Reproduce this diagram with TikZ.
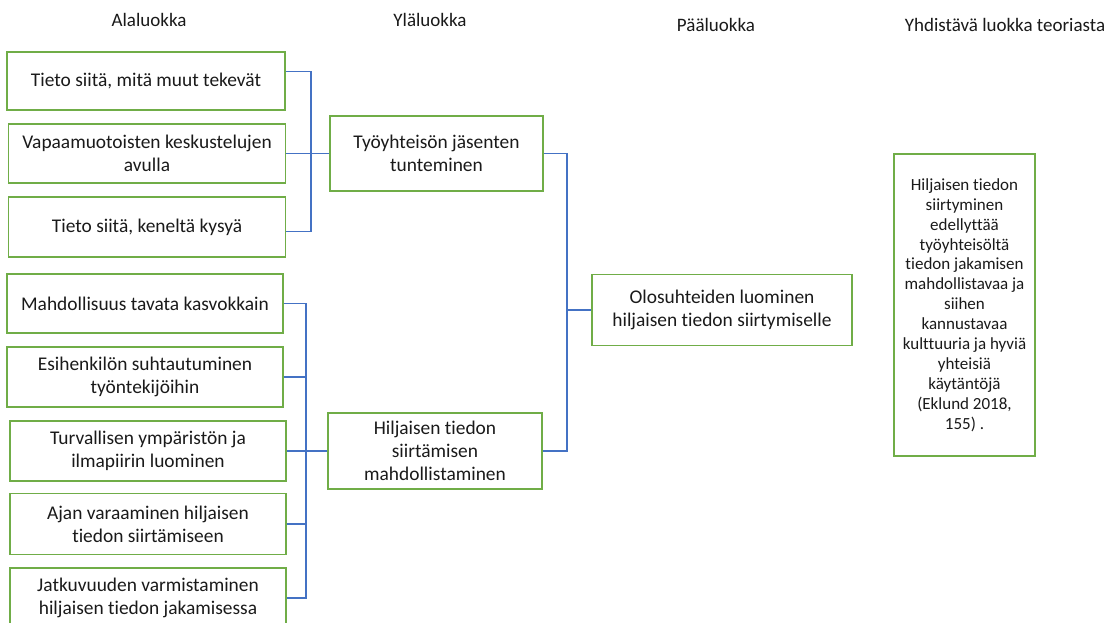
\documentclass[tikz,border=0pt]{standalone}
\usepackage{fontspec}
\setmainfont{Carlito}[Ligatures=NoCommon]
\usetikzlibrary{calc}
\definecolor{boxgreen}{HTML}{70AD47}
\definecolor{linkblue}{HTML}{4472C4}
\definecolor{inktext}{HTML}{1A1A1A}
\begin{document}
\begin{tikzpicture}[x=1pt,y=-1pt,
  catbox/.style={draw=boxgreen,line width=1.6pt,align=center,inner sep=2pt,
    text=inktext,font=\fontsize{19.4}{23.3}\selectfont},
  theorybox/.style={catbox,font=\fontsize{17}{19.9}\selectfont},
  heading/.style={text=inktext,font=\fontsize{19}{22}\selectfont,inner sep=0pt},
  link/.style={draw=linkblue,line width=1.5pt}]
\clip (0,0) rectangle (1110,623);
\fill[white] (0,0) rectangle (1110,623);

% column headings
\node[heading] (h1) at (149,20) {Alaluokka};
\node[heading] (h2) at (430,20) {Yläluokka};
\node[heading] (h3) at (716,25) {Pääluokka};
\node[heading] (h4) at (1005,25) {Yhdistävä luokka teoriasta};

% sub-categories, first group
\node[catbox,minimum width=278pt,minimum height=58pt] (a1) at (146,81) {Tieto siitä, mitä muut tekevät};
\node[catbox,minimum width=277pt,minimum height=59pt] (a2) at (147,153.5) {Vapaamuotoisten keskustelujen\\avulla};
\node[catbox,minimum width=277pt,minimum height=60pt] (a3) at (147,227) {Tieto siitä, keneltä kysyä};

% sub-categories, second group
\node[catbox,minimum width=276pt,minimum height=59pt] (b1) at (145,303.5) {Mahdollisuus tavata kasvokkain};
\node[catbox,minimum width=276pt,minimum height=60pt] (b2) at (145,377) {Esihenkilön suhtautuminen\\työntekijöihin};
\node[catbox,minimum width=276pt,minimum height=60pt] (b3) at (148,451) {Turvallisen ympäristön ja\\ilmapiirin luominen};
\node[catbox,minimum width=276pt,minimum height=61pt] (b4) at (148,524) {Ajan varaaminen hiljaisen\\tiedon siirtämiseen};
\node[catbox,minimum width=276pt,minimum height=60pt] (b5) at (148,598) {Jatkuvuuden varmistaminen\\hiljaisen tiedon jakamisessa};

% upper categories
\node[catbox,minimum width=213pt,minimum height=75pt] (y1) at (436.5,153.5) {Työyhteisön jäsenten\\tunteminen};
\node[catbox,minimum width=214pt,minimum height=76pt] (y2) at (435,451) {Hiljaisen tiedon\\siirtämisen\\mahdollistaminen};

% main category
\node[catbox,minimum width=260pt,minimum height=71pt] (p) at (722,310) {Olosuhteiden luominen\\hiljaisen tiedon siirtymiselle};

% unifying category from theory
\node[theorybox,minimum width=141pt,minimum height=302pt] (t) at (964.5,305)
  {Hiljaisen tiedon\\siirtyminen\\edellyttää\\työyhteisöltä\\tiedon jakamisen\\mahdollistavaa ja\\siihen\\kannustavaa\\kulttuuria ja hyviä\\yhteisiä\\käytäntöjä\\(Eklund 2018,\\155) .};

% junction points of the brackets
\coordinate (ja) at (311,153.5);
\coordinate (jb) at (306,451);
\coordinate (jc) at (567,310);

% first bracket
\draw[link] ([yshift=9.3pt]a1.east) -| (ja);
\draw[link] ([yshift=-4.7pt]a3.east) -| (ja);
\draw[link] (a2.east) -- (y1.west);

% second bracket
\draw[link] (b1.east) -| (jb);
\draw[link] (b5.east) -| (jb);
\draw[link] (b2.east) -- (b2.east -| jb);
\draw[link] (b4.east) -- (b4.east -| jb);
\draw[link] (b3.east) -- (y2.west);

% bracket to the main category
\draw[link] (y1.east) -| (jc);
\draw[link] (y2.east) -| (jc);
\draw[link] (jc) -- (p.west);
\end{tikzpicture}
\end{document}
